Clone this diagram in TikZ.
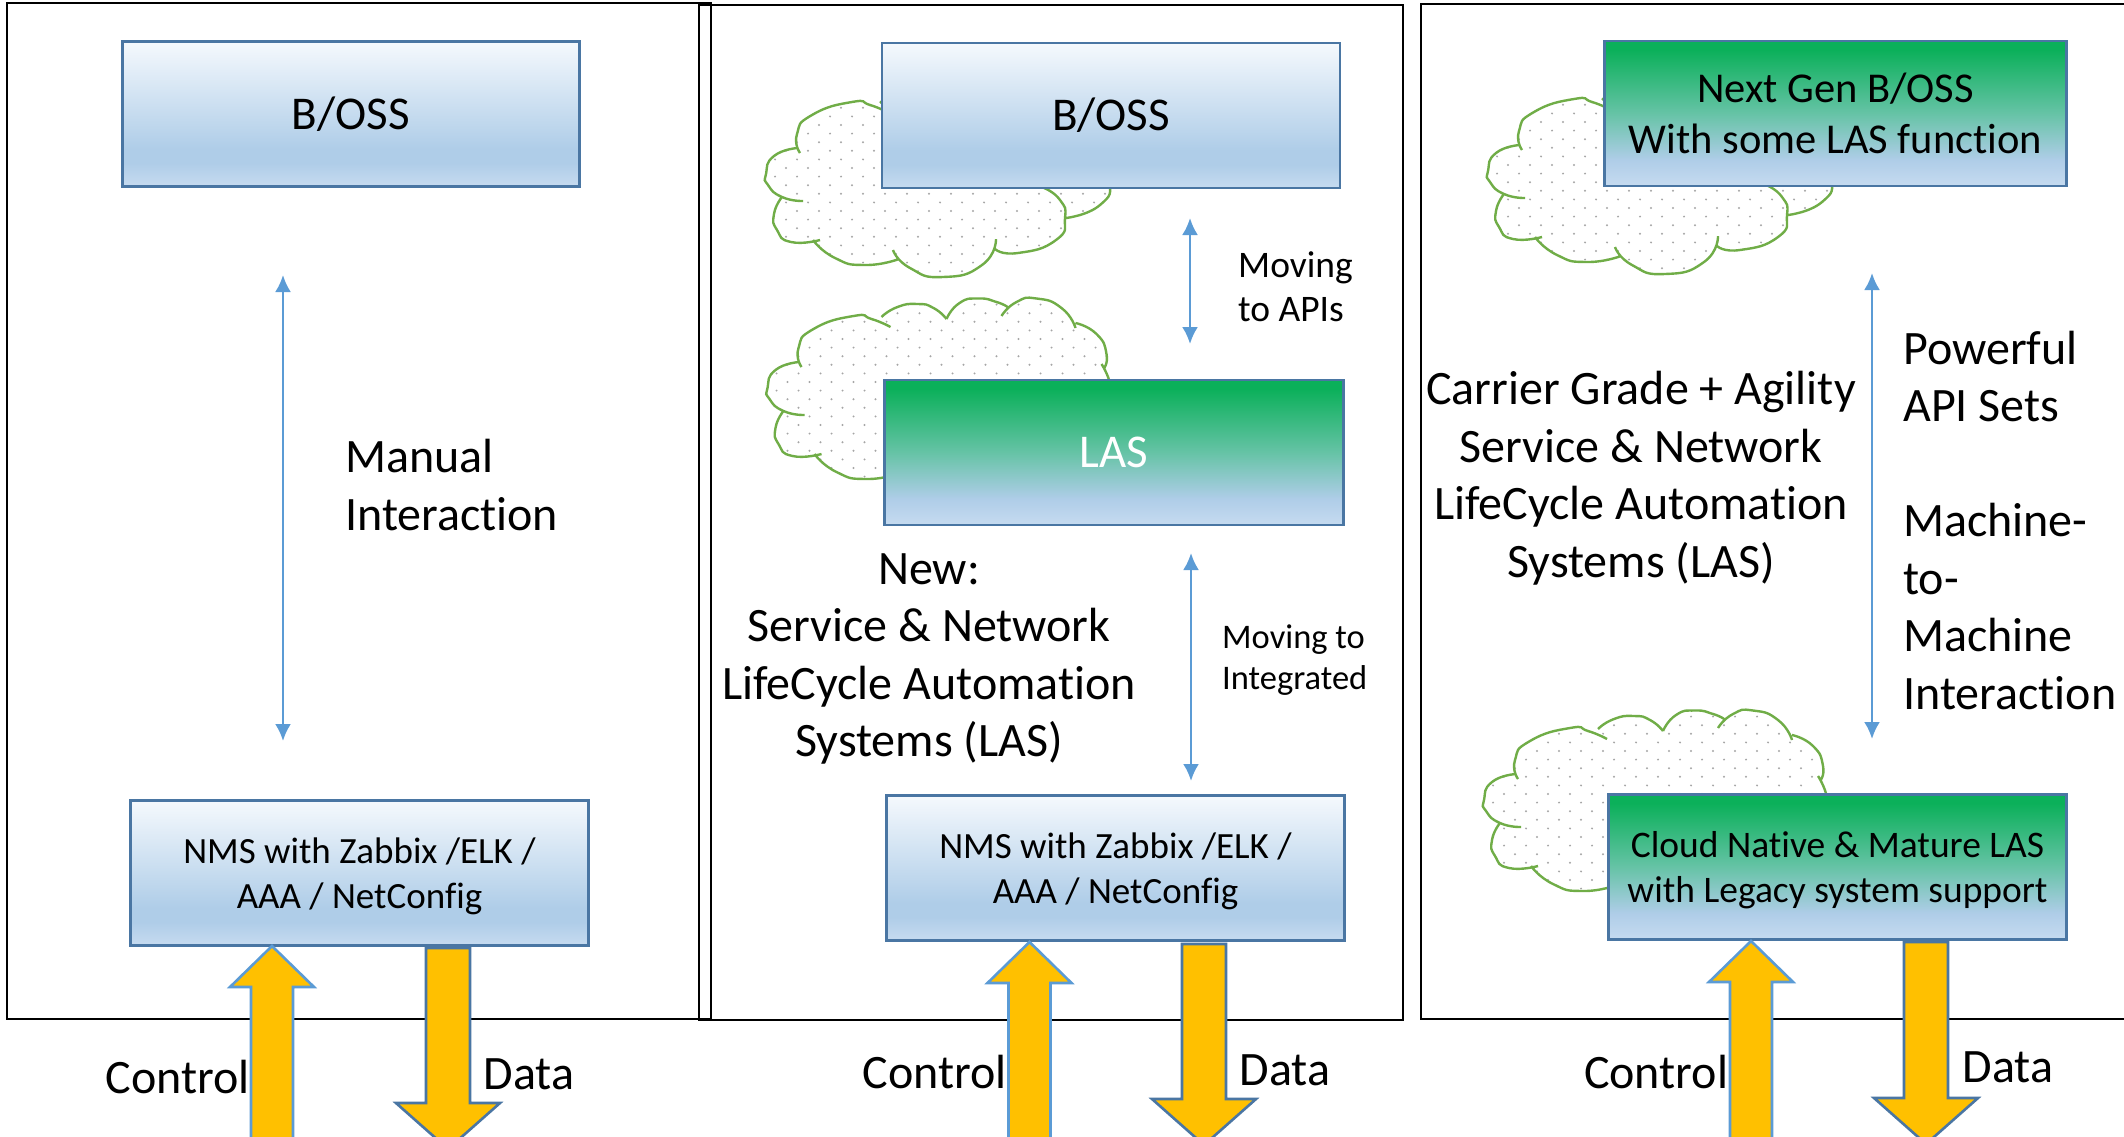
\documentclass[tikz,border=0pt]{standalone}
\usepackage{fontspec}
\setmainfont{Carlito}[Ligatures=NoCommon]
\usetikzlibrary{arrows.meta}
\definecolor{boxedge}{HTML}{4A76A3}
\definecolor{thinblue}{HTML}{5B9BD5}
\definecolor{gold}{HTML}{FFC000}
\definecolor{cloudedge}{HTML}{70AD47}
\definecolor{dotgrey}{HTML}{A6A6A6}
\definecolor{b0}{HTML}{C6DBF0}\definecolor{b1}{HTML}{AFCDE8}\definecolor{b2}{HTML}{F5F9FD}
\definecolor{g0}{HTML}{0BB05A}\definecolor{g1}{HTML}{66C3A6}
\pgfdeclareverticalshading{boxblue}{100bp}{color(0bp)=(b0); color(25bp)=(b0); color(33bp)=(b1); color(38bp)=(b1); color(75bp)=(b2); color(100bp)=(b2)}
\pgfdeclareverticalshading{boxgreen}{100bp}{color(0bp)=(b0); color(25bp)=(b0); color(34bp)=(b1); color(50bp)=(g1); color(72bp)=(g0); color(100bp)=(g0)}
\tikzset{
  panel/.style={draw=black,line width=2.8pt,fill=none},
  boxcommon/.style={draw=boxedge,line width=2.6pt,minimum width=#1,minimum height=145pt,inner sep=0pt,align=center},
  bluebox/.style={boxcommon=#1,shading=boxblue},
  greenbox/.style={boxcommon=#1,shading=boxgreen},
  bigtext/.style={font=\fontsize{47}{58}\selectfont},
  midtext/.style={font=\fontsize{37}{45}\selectfont},
  movetext/.style={font=\fontsize{37.5}{44}\selectfont,align=left,inner sep=0pt},
  smalltext/.style={font=\fontsize{34.5}{41}\selectfont,align=left,inner sep=0pt},
  labeltext/.style={font=\fontsize{48}{57.5}\selectfont,inner sep=0pt,align=center},
  leftblock/.style={font=\fontsize{48}{57.5}\selectfont,inner sep=0pt,align=left},
  thinarrow/.style={draw=thinblue,line width=2.6pt,{Latex[length=17pt,width=16pt]}-{Latex[length=17pt,width=16pt]}},
  cloudline/.style={draw=cloudedge,line width=2.4pt},
  uparrow/.style={draw=thinblue,line width=2.6pt,fill=gold,line join=miter},
  downarrow/.style={draw=boxedge,line width=2.6pt,fill=gold,line join=miter},
  bulge/.style={smooth,tension=1},
}
% cloud outline: one list of points per bulge
\def\bA{(80,153)(77,134)(92,115)(132,102)(150,105)(169,113)}
\def\bB{(160,103)(176,93)(196,90)(212,94)(225,105)}
\def\bC{(225,105)(238,89)(257,84.5)(275,88)(286,93)}
\def\bD{(280,102)(295,88)(315,84.5)(340,94)(354,114)}
\def\bE{(354,109)(375,120)(385,140)(382,155)}
\def\bF{(380,150)(390,180)(380,205)(346,218)}
\def\bG{(324,188)(340,200)(345,218)(336,240)(298,253)(275,249)}
\def\bH{(276,239)(262,265)(223,277)(190,268)(173,250)}
\def\bI{(179,259)(145,265)(115,258)(93,240)}
\def\bJ{(100,240)(71,242)(57,230)(54,214)(62,197)}
\def\bK{(83,201)(62,197)(48,185)(46,174)(54,156)(78,148)}
\def\cloudclosed{plot[bulge] coordinates {\bA} -- plot[bulge] coordinates {\bB} -- plot[bulge] coordinates {\bC} -- plot[bulge] coordinates {\bD} -- plot[bulge] coordinates {\bE} -- plot[bulge] coordinates {\bF} -- plot[bulge] coordinates {\bG} -- plot[bulge] coordinates {\bH} -- plot[bulge] coordinates {\bI} -- plot[bulge] coordinates {\bJ} -- plot[bulge] coordinates {\bK} -- cycle}
\newcommand{\cloudshape}[2]{%
  \begin{scope}[shift={(#1,#2)}]
    \fill[white] \cloudclosed;
    \begin{scope}
      \clip \cloudclosed;
      \foreach \r in {0,...,24}{
        \foreach \c in {0,...,16}{
          \fill[dotgrey] ({44+\c*22+mod(\r,2)*11},{82+\r*8.6}) circle (1.1pt);
        }
      }
    \end{scope}
    \draw[cloudline] plot[bulge] coordinates {\bA} plot[bulge] coordinates {\bB} plot[bulge] coordinates {\bC} plot[bulge] coordinates {\bD} plot[bulge] coordinates {\bE} plot[bulge] coordinates {\bF} plot[bulge] coordinates {\bG} plot[bulge] coordinates {\bH} plot[bulge] coordinates {\bI} plot[bulge] coordinates {\bJ} plot[bulge] coordinates {\bK};
  \end{scope}}
\newcommand{\goldup}[2]{% centre x, tip y
  \draw[uparrow] (#1,#2) -- ({#1+42},{#2+41}) -- ({#1+21},{#2+41}) -- ({#1+21},1150) -- ({#1-21},1150) -- ({#1-21},{#2+41}) -- ({#1-42},{#2+41}) -- cycle;}
\newcommand{\golddown}[3]{% centre x, top y, head base y
  \draw[downarrow] ({#1-22},#2) -- ({#1+22},#2) -- ({#1+22},#3) -- ({#1+52},#3) -- (#1,{#3+46}) -- ({#1-52},#3) -- ({#1-22},#3) -- cycle;}
\begin{document}
\begin{tikzpicture}[x=1pt,y=-1pt]
\useasboundingbox (0,0) rectangle (2124,1136);
\fill[white] (0,0) rectangle (2124,1136);
% panels
\draw[panel] (7,3) rectangle (711,1019);
\draw[panel] (699,5) rectangle (1403,1020);
\draw[panel] (1421,4) rectangle (2134,1019);
% clouds
\cloudshape{720}{0}
\cloudshape{721.5}{214}
\cloudshape{1442}{-3}
\cloudshape{1438}{626}
% boxes
\node[bluebox=457pt,bigtext] (boss1) at (351,114) {B/OSS};
\node[bluebox=458pt,bigtext] (boss2) at (1111,115.5) {B/OSS};
\node[greenbox=459pt,bigtext,text=white] (las) at (1114,452.5) {LAS};
\node[bluebox=458pt,midtext,text depth=-5pt] (nms1) at (359.5,873) {NMS with Zabbix /ELK /\\AAA / NetConfig};
\node[bluebox=458pt,midtext,text depth=-5pt] (nms2) at (1115.5,868) {NMS with Zabbix /ELK /\\AAA / NetConfig};
\node[greenbox=462pt,font=\fontsize{42.5}{51}\selectfont] (nextgen) at (1835.5,113.5) {Next Gen B/OSS\\With some LAS function};
\node[greenbox=458pt,font=\fontsize{37.5}{45}\selectfont,text depth=-4pt] (cloudnative) at (1837.5,867) {Cloud Native \& Mature LAS\\with Legacy system support};
% thin arrows
\coordinate (a1t) at (283,275); \coordinate (a1b) at (283,741);
\coordinate (a2t) at (1190,218); \coordinate (a2b) at (1190,344);
\coordinate (a3t) at (1191,553); \coordinate (a3b) at (1191,781);
\coordinate (a4t) at (1872,273); \coordinate (a4b) at (1872,739);
\draw[thinarrow] (a1t) -- (a1b);
\draw[thinarrow] (a2t) -- (a2b);
\draw[thinarrow] (a3t) -- (a3b);
\draw[thinarrow] (a4t) -- (a4b);
% block arrows
\goldup{272}{946}
\golddown{448}{948}{1103}
\goldup{1029.5}{942}
\golddown{1204}{944}{1099}
\goldup{1751}{941}
\golddown{1926}{942}{1098}
% texts
\node[leftblock,anchor=west] (manual) at (345,485) {Manual\\Interaction};
\node[movetext,anchor=west] (apis) at (1238,287) {Moving\\to APIs};
\node[smalltext,anchor=west] (integ) at (1222,660) {Moving to\\Integrated};
\node[labeltext] (newlas) at (929,659) {New:\\Service \& Network\\LifeCycle Automation\\Systems (LAS)};
\node[labeltext] (carrier) at (1641,478) {Carrier Grade + Agility\\Service \& Network\\LifeCycle Automation\\Systems (LAS)};
\node[leftblock,anchor=west] (powerful) at (1903,520) {Powerful\\API Sets\\[57.5pt]Machine-\\to-\\Machine\\Interaction};
\node[labeltext] (c1) at (178,1077) {Control};
\node[labeltext] (c2) at (935,1072) {Control};
\node[labeltext] (c3) at (1656,1072) {Control};
\node[labeltext] (d1) at (529,1074) {Data};
\node[labeltext] (d2) at (1285,1070) {Data};
\node[labeltext] (d3) at (2008,1067) {Data};
\end{tikzpicture}
\end{document}
